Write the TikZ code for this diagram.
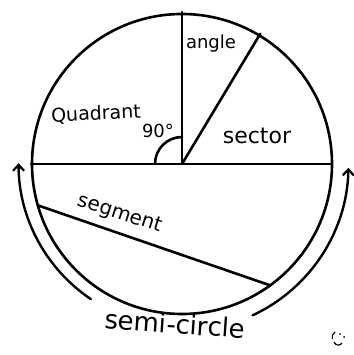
\documentclass[tikz,border=0pt]{standalone}
\usepackage{fontspec}
\setmainfont{DejaVu Sans}
\usetikzlibrary{arrows.meta,calc}
\begin{document}
\begin{tikzpicture}[x=1pt,y=1pt,
  thickline/.style={line width=2.6pt,line cap=round,line join=round},
  lbl/.style={inner sep=0pt},
  semiarrow/.style={line width=2.4pt,line cap=round,-{Straight Barb[length=6pt,width=11pt,line width=2.2pt]}}]
\useasboundingbox (0,0) rectangle (353,355);
\coordinate (O) at (182,191);
\coordinate (T) at ($(O)+(90:152)$);
\coordinate (L) at ($(O)+(180:151)$);
\coordinate (R) at ($(O)+(0:150)$);
\coordinate (A) at ($(O)+(59:152)$);
\coordinate (S1) at ($(O)+(196:150)$);
\coordinate (S2) at ($(O)+(-54:150)$);
% circle
\draw[thickline] (O) circle[radius=150];
% radii and diameter
\draw[thickline] (O) -- (T);
\draw[thickline] (O) -- (A);
\draw[thickline] (L) -- (R);
% chord
\draw[thickline] (S1) -- (S2);
% right angle arc
\draw[thickline] ($(O)+(180:27)$) arc[start angle=180,end angle=90,radius=27];
% semi-circle arrows
\coordinate (LA0) at ($(O)+(236:163)$);
\coordinate (RA0) at ($(O)+(295:167)$);
\draw[semiarrow] (LA0) arc[start angle=236,end angle=180,radius=164];
\draw[semiarrow] (RA0) arc[start angle=295,end angle=359,radius=166];
% labels
\node[lbl,font=\fontsize{18}{20}\selectfont] (angle) at (211,311) {angle};
\node[lbl,rotate=3,font=\fontsize{19}{21}\selectfont] (quad) at (96,241) {Quadrant};
\node[lbl,font=\fontsize{18}{20}\selectfont] (ninety) at (158,224) {90°};
\node[lbl,font=\fontsize{22}{24}\selectfont] (sector) at (257,219) {sector};
\node[lbl,rotate=-18,font=\fontsize{20}{22}\selectfont] (segment) at (120,141) {segment};
\node[lbl,rotate=-4,font=\fontsize{26}{28}\selectfont] (semi) at (175,31) {semi-circle};
% small face
\begin{scope}[shift={(338,17)},line width=1.2pt]
  \draw (-3,6) arc[start angle=120,end angle=200,radius=6];
  \fill (2,4) circle[radius=1];
  \fill (6,1) circle[radius=1];
  \draw (-4,-4) .. controls (-2,-8) and (2,-8) .. (4,-5);
\end{scope}
\end{tikzpicture}
\end{document}
